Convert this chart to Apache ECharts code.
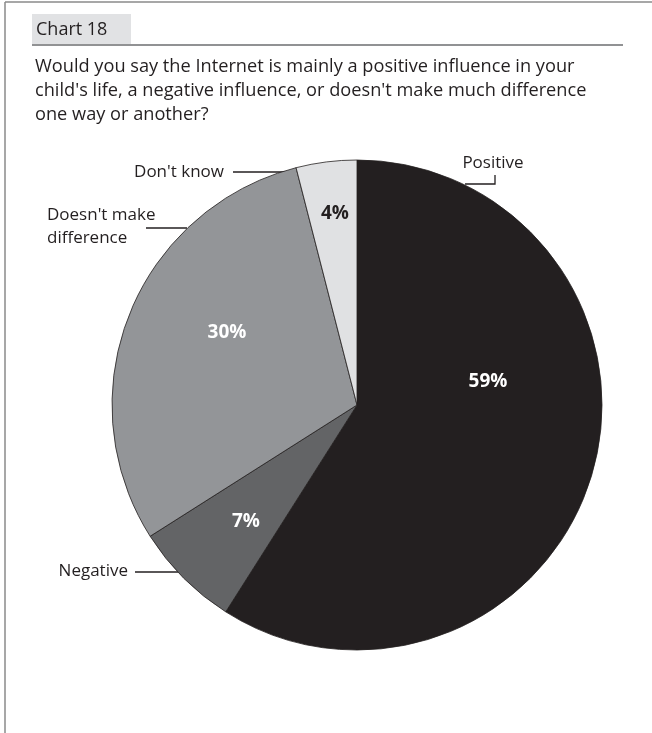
<!DOCTYPE html>
<html><head><meta charset="utf-8">
<script src="https://cdn.jsdelivr.net/npm/echarts@6/dist/echarts.min.js"></script>
<style>html,body{margin:0;padding:0;background:#fff}#c{width:652px;height:733px}</style>
</head><body><div id="c"></div>
<script>
const chartTitle = 'Chart 18';
const questionLines = [
  'Would you say the Internet is mainly a positive influence in your',
  "child's life, a negative influence, or doesn't make much difference",
  'one way or another?'
];
const categories = ['Positive', 'Negative', "Doesn't make\ndifference", "Don't know"];
const values = [59, 7, 30, 4];
const sliceColors = ['#231f20', '#636466', '#939598', '#e0e1e3'];
const pctColors = ['#ffffff', '#ffffff', '#ffffff', '#231f20'];

const FONT = '"Open Sans", "Noto Sans", sans-serif';
const CX = 357, CY = 405, R = 245;

// label placement (relative to pie center)
const pctPos = [[131, -23], [-111, 117], [-130, -72], [-22, -191]];
const namePos = [
  {x: 493, y: 163, align: 'center', line: [[465, 184], [495, 184], [495, 175]]},
  {x: 128, y: 571, align: 'right', line: [[178, 572], [156, 572], [135, 572]]},
  {x: 47, y: 227, align: 'left', line: [[187, 228], [166, 228], [146, 228]]},
  {x: 224, y: 172, align: 'right', line: [[312, 172], [272, 172], [233, 172]]}
];

const data = categories.map((c, i) => ({
  name: c, value: values[i],
  itemStyle: {color: sliceColors[i]},
  label: {color: pctColors[i]}
}));

const chart = echarts.init(document.getElementById('c'), null, {renderer: 'canvas'});
chart.setOption({
  animation: false,
  backgroundColor: '#ffffff',
  graphic: [
    {type: 'line', shape: {x1: 5, y1: 2, x2: 652, y2: 2}, style: {stroke: '#8a8a8a', lineWidth: 1.5}},
    {type: 'line', shape: {x1: 5, y1: 2, x2: 5, y2: 733}, style: {stroke: '#8a8a8a', lineWidth: 1.5}},
    {type: 'rect', shape: {x: 32, y: 14, width: 99, height: 30}, style: {fill: '#e1e2e4'}},
    {type: 'line', shape: {x1: 32, y1: 45, x2: 623, y2: 45}, style: {stroke: '#6d6e71', lineWidth: 1.5}},
    {type: 'text', left: 36, top: 21, style: {text: chartTitle, fontFamily: FONT, fontSize: 18, fill: '#231f20'}},
    {type: 'text', left: 35, top: 55, style: {text: questionLines.join('\n'), fontFamily: FONT, fontSize: 18.2, lineHeight: 24, fill: '#231f20'}}
  ],
  series: [
    {
      type: 'pie', center: [CX, CY], radius: [0, R], startAngle: 90, clockwise: true,
      silent: true,
      itemStyle: {borderColor: '#231f20', borderWidth: 0.8},
      label: {show: true, position: 'inside', formatter: '{c}%', fontFamily: FONT, fontWeight: 'bold', fontSize: 19, overflow: 'none'},
      labelLine: {show: false},
      labelLayout: function (p) {
        const q = pctPos[p.dataIndex];
        return {x: CX + q[0], y: CY + q[1], align: 'center', verticalAlign: 'middle'};
      },
      data: data
    },
    {
      type: 'pie', center: [CX, CY], radius: [0, R], startAngle: 90, clockwise: true,
      silent: true,
      itemStyle: {color: 'rgba(0,0,0,0)', borderWidth: 0},
      label: {show: true, position: 'outside', formatter: '{b}', fontFamily: FONT, fontSize: 17, lineHeight: 23, color: '#231f20', overflow: 'none'},
      labelLine: {show: true, lineStyle: {color: '#231f20', width: 1.3}},
      labelLayout: function (p) {
        const q = namePos[p.dataIndex];
        return {x: q.x, y: q.y, align: q.align, verticalAlign: 'middle', labelLinePoints: q.line, hideOverlap: false};
      },
      data: categories.map((c, i) => ({name: c, value: values[i]}))
    }
  ]
});
</script></body></html>
